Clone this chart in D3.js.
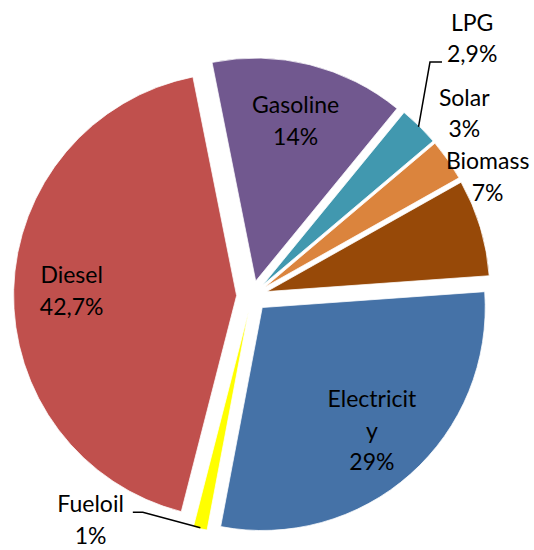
<!DOCTYPE html>
<html>
<head>
<meta charset="utf-8">
<script src="https://cdn.jsdelivr.net/npm/d3@7"></script>
<style>
  body { margin: 0; background: #fff; }
  text { font-family: Lato, "Open Sans", sans-serif; fill: #000; }
</style>
</head>
<body>
<div id="chart"></div>
<script>
// data
const categories = ["Gasoline", "LPG", "Solar", "Biomass", "Electricity", "Fueloil", "Diesel"];
const values = [14, 2.9, 3, 7, 29, 1, 42.7];
const labelLines = [
    ["Gasoline", "14%"],
    ["LPG", "2,9%"],
    ["Solar", "3%"],
    ["Biomass", "7%"],
    ["Electricit", "y", "29%"],
    ["Fueloil", "1%"],
    ["Diesel", "42,7%"]
];
const colors = ["#71588F", "#4198AF", "#DB843D", "#974908", "#4572A7", "#FFFF00", "#C0504D"];

// outside labels: [angle deg, distance from centre], null = inside label
const outsideLabels = [null, [40.5, 339], [49.3, 280], [63.2, 264], null, [215.8, 276], null];
// which side the leader attaches to (only LPG and Fueloil have one)
const leaders = [null, "left", null, null, null, "right", null];

const width = 534, height = 550;
const cx = 252, cy = 296;
const radius = 223;
const explode = 15.4;
const startAngle = -11.3 * Math.PI / 180;
const fontSize = 23;
const lineGap = 31.5;

const svg = d3.select("#chart")
    .append("svg")
    .attr("width", width)
    .attr("height", height)
    .style("background-color", "#fff");

const g = svg.append("g").attr("transform", `translate(${cx},${cy})`);

const pie = d3.pie()
    .sort(null)
    .value(d => d)
    .startAngle(startAngle)
    .endAngle(startAngle + 2 * Math.PI);

const arcs = pie(values);

const arc = d3.arc().innerRadius(0).outerRadius(radius);

function polar(angle, r) {
    return [Math.sin(angle) * r, -Math.cos(angle) * r];
}
function mid(d) { return (d.startAngle + d.endAngle) / 2; }

// slices, each pulled out along its middle angle
g.selectAll("path.slice")
    .data(arcs)
    .enter()
    .append("path")
    .attr("class", "slice")
    .attr("d", arc)
    .attr("transform", d => {
        const p = polar(mid(d), explode);
        return `translate(${p[0]},${p[1]})`;
    })
    .attr("fill", (d, i) => colors[i])
    .attr("stroke", "#fff")
    .attr("stroke-width", 0.75);

// labels
arcs.forEach(function(d, i) {
    let pos;
    if (outsideLabels[i]) {
        pos = polar(outsideLabels[i][0] * Math.PI / 180, outsideLabels[i][1]);
    } else {
        pos = polar(mid(d), explode + radius * 0.74);
    }
    const lines = labelLines[i];
    const top = pos[1] - (lines.length - 1) * lineGap / 2;

    const label = g.append("text")
        .attr("text-anchor", "middle")
        .attr("font-size", fontSize);
    lines.forEach(function(t, j) {
        label.append("tspan")
            .attr("x", pos[0])
            .attr("y", top + j * lineGap)
            .attr("dy", "0.35em")
            .text(t);
    });

    // leader line
    if (leaders[i]) {
        const tip = polar(mid(d), explode + radius - 1);
        const spans = label.selectAll("tspan").nodes();
        let x0, y0, elbowX;
        if (leaders[i] === "left") {
            const bb = spans[1].getBBox();
            x0 = bb.x - 5;
            y0 = top + lineGap + fontSize * 0.35;
            elbowX = x0 - 12;
        } else {
            const bb = spans[0].getBBox();
            x0 = bb.x + bb.width + 9;
            y0 = top + fontSize * 0.35;
            elbowX = x0 + 10;
        }
        g.append("path")
            .attr("d", d3.line()([[x0, y0], [elbowX, y0], tip]))
            .attr("fill", "none")
            .attr("stroke", "#000")
            .attr("stroke-width", 1.5);
    }
});
</script>
</body>
</html>
